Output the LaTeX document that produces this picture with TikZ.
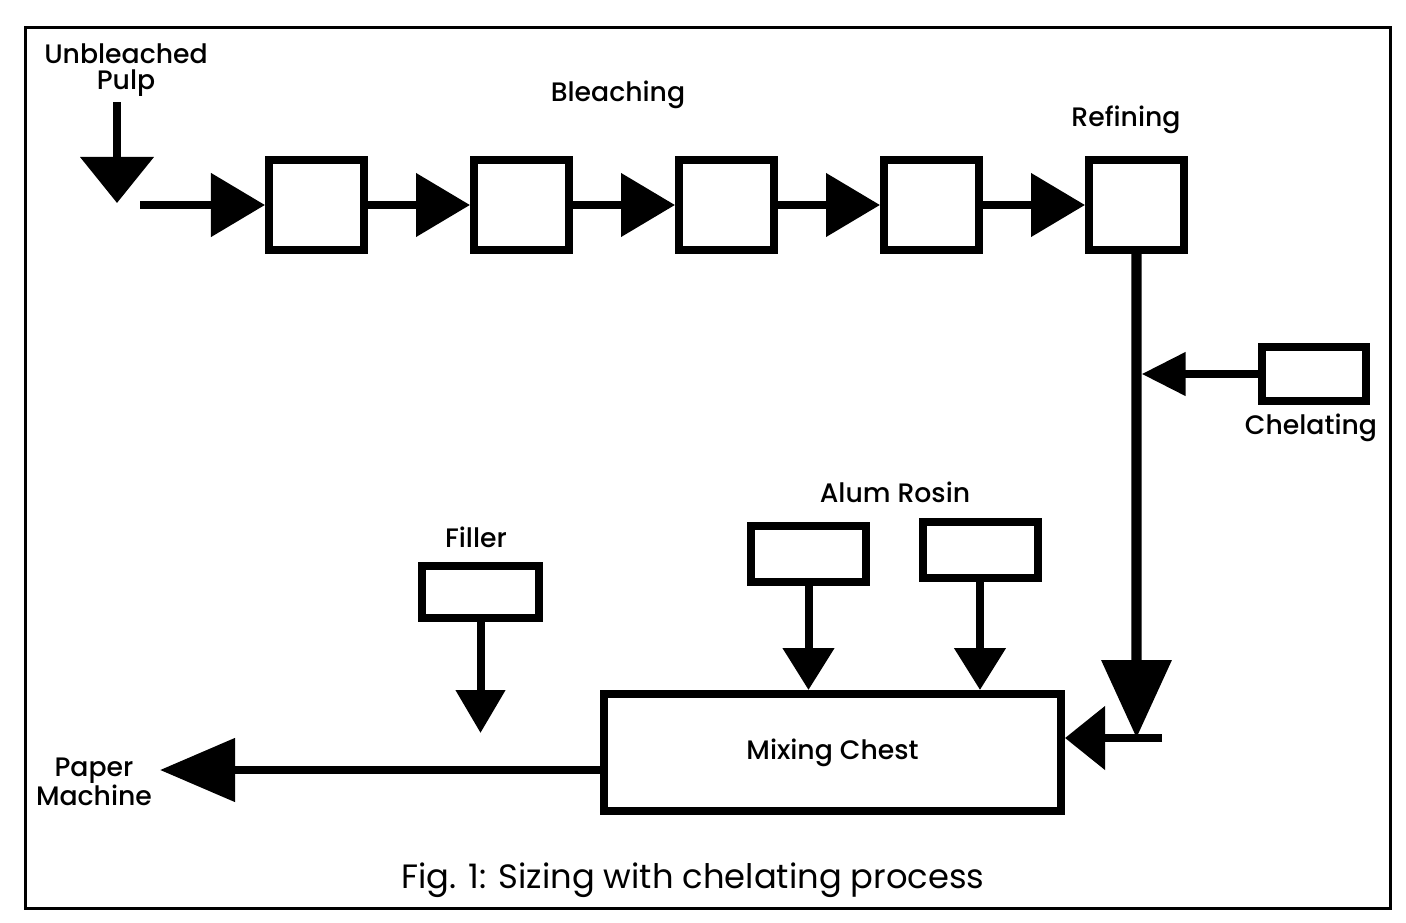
\documentclass[tikz,border=0pt]{standalone}
\usepackage{fontspec}
\setmainfont{Poppins}[BoldFont={* Medium}]
\usetikzlibrary{positioning,arrows.meta}
\tikzset{
  unit/.style ={rectangle, draw=black, line width=2mm, fill=white, inner sep=0pt,
                font=\fontsize{19}{18}\selectfont\bfseries},
  stage/.style={unit, minimum width=23.75mm, minimum height=22.25mm},
  dose/.style ={unit, minimum width=28.75mm, minimum height=14mm},
  lbl/.style  ={font=\fontsize{19}{18}\selectfont\bfseries, align=center, inner sep=0pt},
  flow/.style 2 args={line width=2mm, -{Triangle[length=#1, width=#2]}},
  frame/.style={line width=0.75mm},
}

\begin{document}
\begin{tikzpicture}[x=0.25mm, y=-0.25mm]
  \useasboundingbox (0,0) rectangle (1406,923);
  \draw[frame] (25,28) rectangle (1390,908);
  % bleaching and refining
  \node[stage] (b1) at (316.5,205) {};
  \node[stage, right=25.5mm of b1] (b2) {};
  \node[stage, right=25.5mm of b2] (b3) {};
  \node[stage, right=25.5mm of b3] (b4) {};
  \node[stage, right=25.5mm of b4] (ref) {};
  \node[lbl] (bleach) at (618,95) {Bleaching};
  \node[lbl] (reflbl) at (1126,120) {Refining};
  \node[lbl] (pulp) at (126,70) {Unbleached\\Pulp};
  \coordinate (pulpin) at (117,203);
  \coordinate (feed) at (140,205);
  \draw[flow={11.5mm}{18mm}, shorten <=1.5mm] (pulp.south -| pulpin) -- (pulpin);
  \draw[flow={13.5mm}{15.5mm}] (feed) -- (b1);
  \foreach \a/\b in {b1/b2, b2/b3, b3/b4, b4/ref}
    \draw[flow={13.5mm}{15.5mm}] (\a) -- (\b);
  % chelating
  \node[unit, minimum width=26mm, minimum height=13.5mm] (chel) at (1314,374) {};
  \node[lbl] (chellbl) at (1311,428) {Chelating};
  \coordinate (turn) at (1136.5,738);
  \coordinate (tick) at (1162,738);
  \draw[flow={19.5mm}{17mm}, line width=2.6mm] (ref) -- (turn);
  \draw[flow={11mm}{10.5mm}, shorten >=1.3mm] (chel) -- (turn |- chel);
  % mixing
  \node[unit, minimum width=114.25mm, minimum height=29.25mm] (mix) at (832.5,752.5) {Mixing Chest};
  \draw[flow={10mm}{15.5mm}] (tick) -- (mix.east |- tick);
  \node[unit, minimum width=29.25mm, minimum height=13mm] (fill) at (480.5,592) {};
  \node[lbl] (filllbl) at (476,537) {Filler};
  \coordinate (fillend) at (480.5,733);
  \draw[flow={10.75mm}{12mm}] (fill) -- (fillend);
  \node[dose] (alum1) at (808.5,554) {};
  \node[dose] (alum2) at (980,550) {};
  \node[lbl] (alumlbl) at (895,492) {Alum Rosin};
  \draw[flow={10.5mm}{12.5mm}] (alum1) -- (alum1 |- mix.north);
  \draw[flow={10.5mm}{12.5mm}] (alum2) -- (alum2 |- mix.north);
  % output
  \coordinate (paper) at (160,770);
  \node[lbl] (paperlbl) at (94,782) {Paper\\Machine};
  \draw[flow={18.75mm}{15.5mm}] (mix.west |- paper) -- (paper);
  \node[font=\fontsize{24}{28}\selectfont] (caption) at (693,880) {Fig. 1: Sizing with chelating process};
\end{tikzpicture}
\end{document}
